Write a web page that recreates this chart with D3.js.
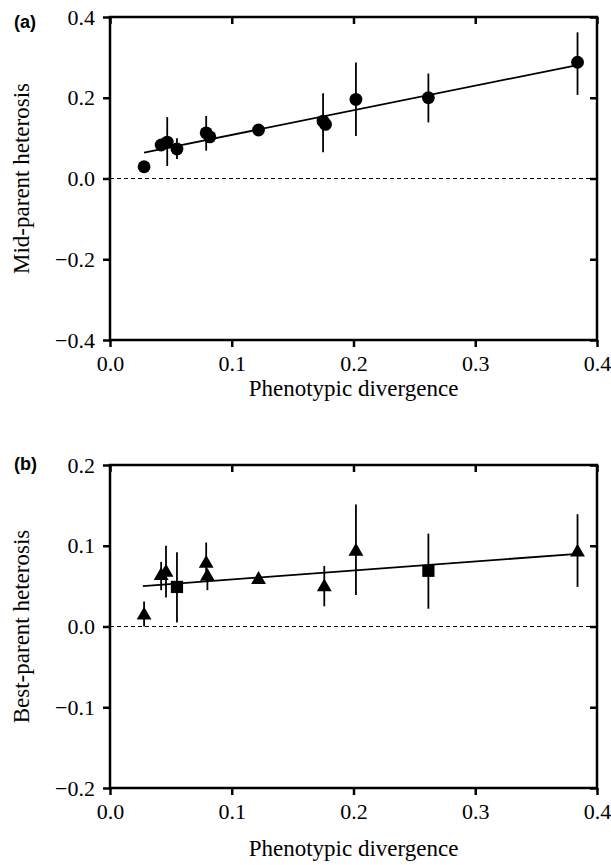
<!DOCTYPE html>
<html>
<head>
<meta charset="utf-8">
<script src="https://cdn.jsdelivr.net/npm/d3@7"></script>
<style>
  body { margin: 0; background: #fff; }
  svg text { font-family: "Liberation Serif", "Times New Roman", serif; fill: #000; }
</style>
</head>
<body>
<svg width="611" height="865"></svg>
<script>
// panel (a): mid-parent heterosis
var divA = [0.028, 0.042, 0.047, 0.055, 0.079, 0.082, 0.122, 0.175, 0.177, 0.202, 0.2615, 0.384];
var midParent = [0.029, 0.083, 0.090, 0.073, 0.113, 0.103, 0.120, 0.142, 0.134, 0.196, 0.200, 0.288];
var midLow  = [null, null, 0.031, 0.048, 0.069, null, null, 0.065, null, 0.105, 0.139, 0.207];
var midHigh = [null, null, 0.152, 0.100, 0.155, null, null, 0.211, null, 0.287, 0.260, 0.362];
var fitAx = [0.028, 0.384];
var fitAy = [0.064, 0.281];

// panel (b): best-parent heterosis
var divB = [0.028, 0.042, 0.046, 0.055, 0.079, 0.080, 0.122, 0.176, 0.202, 0.2615, 0.384];
var bestParent = [0.014, 0.063, 0.067, 0.049, 0.078, 0.062, 0.058, 0.049, 0.093, 0.069, 0.092];
var bestLow  = [0.000, 0.045, 0.036, 0.005, 0.060, 0.045, null, 0.025, 0.039, 0.022, 0.049];
var bestHigh = [0.031, 0.080, 0.100, 0.092, 0.104, 0.070, null, 0.075, 0.151, 0.115, 0.139];
var shapeB = ['tri', 'tri', 'tri', 'sq', 'tri', 'tri', 'tri', 'tri', 'tri', 'sq', 'tri'];
var fitBx = [0.027, 0.384];
var fitBy = [0.050, 0.090];

var xTicks = [0, 0.1, 0.2, 0.3, 0.4];
var yTicksA = [-0.4, -0.2, 0, 0.2, 0.4];
var yTicksB = [-0.2, -0.1, 0, 0.1, 0.2];

var svg = d3.select('svg');
var left = 110, right = 597;
var fmt = d3.format('.1f');
var serif = '"Liberation Serif", "Times New Roman", serif';

function drawPanel(top, bottom, yMax, yTicks, pts, fit, tag, tagY, ylabel, titleY) {
    var x = d3.scaleLinear().domain([0, 0.4]).range([left, right]);
    var y = d3.scaleLinear().domain([-yMax, yMax]).range([bottom, top]);
    var g = svg.append('g');

    // zero reference line
    g.append('line')
        .attr('x1', left).attr('x2', right)
        .attr('y1', y(0)).attr('y2', y(0))
        .attr('stroke', '#000')
        .attr('stroke-width', 1.2)
        .attr('stroke-dasharray', '4,3');

    // axes: ticks out on left/bottom, in on top/right
    var axes = [
        g.append('g').attr('transform', 'translate(0,' + bottom + ')')
            .call(d3.axisBottom(x).tickValues(xTicks).tickFormat(fmt).tickSize(7).tickPadding(8)),
        g.append('g').attr('transform', 'translate(0,' + top + ')')
            .call(d3.axisTop(x).tickValues(xTicks).tickFormat('').tickSize(-7)),
        g.append('g').attr('transform', 'translate(' + left + ',0)')
            .call(d3.axisLeft(y).tickValues(yTicks).tickFormat(fmt).tickSize(7).tickPadding(8)),
        g.append('g').attr('transform', 'translate(' + right + ',0)')
            .call(d3.axisRight(y).tickValues(yTicks).tickFormat('').tickSize(-7))
    ];
    axes.forEach(function(a) {
        a.attr('font-family', serif).attr('font-size', 22);
        a.select('.domain').remove();
        a.selectAll('.tick line').attr('stroke-width', 2.5);
    });
    // frame
    g.append('rect')
        .attr('x', left).attr('y', top)
        .attr('width', right - left).attr('height', bottom - top)
        .attr('fill', 'none').attr('stroke', '#000').attr('stroke-width', 2.5);

    // regression line
    g.append('line')
        .attr('x1', x(fit[0][0])).attr('y1', y(fit[1][0]))
        .attr('x2', x(fit[0][1])).attr('y2', y(fit[1][1]))
        .attr('stroke', '#000').attr('stroke-width', 1.8);

    // error bars
    g.selectAll('line.err')
        .data(pts.filter(function(d) { return d.lo != null; }))
        .enter()
        .append('line')
            .attr('class', 'err')
            .attr('x1', function(d) { return x(d.x); })
            .attr('x2', function(d) { return x(d.x); })
            .attr('y1', function(d) { return y(d.lo); })
            .attr('y2', function(d) { return y(d.hi); })
            .attr('stroke', '#000')
            .attr('stroke-width', 1.8);

    // markers
    g.selectAll('path.pt')
        .data(pts)
        .enter()
        .append('path')
            .attr('class', 'pt')
            .attr('transform', function(d) { return 'translate(' + x(d.x) + ',' + y(d.y) + ')'; })
            .attr('d', function(d) {
                if (d.s == 'tri') return d3.symbol(d3.symbolTriangle, 95)();
                if (d.s == 'sq') return d3.symbol(d3.symbolSquare, 150)();
                return d3.symbol(d3.symbolCircle, 130)();
            })
            .attr('fill', '#000');

    // labels
    svg.append('text')
        .attr('x', 14).attr('y', tagY)
        .style('font-family', '"Liberation Sans", Arial, sans-serif')
        .attr('font-weight', 'bold')
        .attr('font-size', 18)
        .text(tag);
    svg.append('text')
        .attr('transform', 'translate(29,' + ((top + bottom) / 2) + ') rotate(-90)')
        .attr('text-anchor', 'middle')
        .attr('font-size', 23)
        .text(ylabel);
    svg.append('text')
        .attr('x', (left + right) / 2).attr('y', titleY)
        .attr('text-anchor', 'middle')
        .attr('font-size', 23)
        .text('Phenotypic divergence');
}

var ptsA = divA.map(function(v, i) {
    return { x: v, y: midParent[i], lo: midLow[i], hi: midHigh[i], s: 'circle' };
});
var ptsB = divB.map(function(v, i) {
    return { x: v, y: bestParent[i], lo: bestLow[i], hi: bestHigh[i], s: shapeB[i] };
});

drawPanel(17, 340, 0.4, yTicksA, ptsA, [fitAx, fitAy], '(a)', 28, 'Mid-parent  heterosis', 396);
drawPanel(465, 788, 0.2, yTicksB, ptsB, [fitBx, fitBy], '(b)', 470, 'Best-parent heterosis', 856);
</script>
</body>
</html>
